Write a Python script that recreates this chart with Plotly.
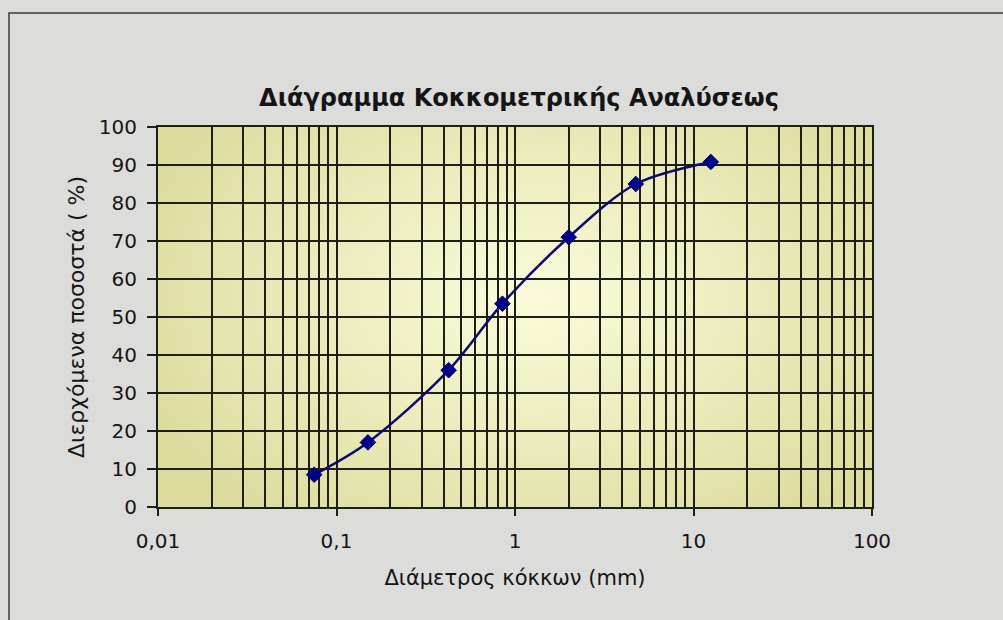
import plotly.graph_objects as go
import numpy as np
import zlib, struct, base64

# ---- data ----
diameter_mm = [0.075, 0.15, 0.425, 0.85, 2.0, 4.75, 12.5]
passing_pct = [8.5, 17.0, 36.0, 53.5, 71.0, 85.0, 90.8]

x_tickvals = [0.01, 0.1, 1, 10, 100]
x_ticktext = ["0,01", "0,1", "1", "10", "100"]
y_tickvals = [0, 10, 20, 30, 40, 50, 60, 70, 80, 90, 100]

title_text = "Διάγραμμα Κοκκομετρικής Αναλύσεως"
x_title = "Διάμετρος κόκκων (mm)"
y_title = "Διερχόμενα ποσοστά ( %)"

# minor grid values (2..9 per decade)
minor_vals = [m * 10.0 ** e for e in range(-2, 2) for m in range(2, 10)]


# ---- radial gradient background image for the plot area ----
def make_png(arr):
    h, w, _ = arr.shape
    raw = b"".join(b"\x00" + arr[i].tobytes() for i in range(h))
    def chunk(tag, data):
        c = struct.pack(">I", len(data)) + tag + data
        return c + struct.pack(">I", zlib.crc32(tag + data) & 0xffffffff)
    png = b"\x89PNG\r\n\x1a\n"
    png += chunk(b"IHDR", struct.pack(">IIBBBBB", w, h, 8, 2, 0, 0, 0))
    png += chunk(b"IDAT", zlib.compress(raw, 9))
    png += chunk(b"IEND", b"")
    return "data:image/png;base64," + base64.b64encode(png).decode()

W, H = 360, 190
yy, xx = np.mgrid[0:H, 0:W]
cx, cy = 0.52 * W, 0.45 * H
r = np.sqrt(((xx - cx) / (0.60 * W)) ** 2 + ((yy - cy) / (0.75 * H)) ** 2)
t = np.clip(r, 0, 1)[..., None]
c_in = np.array([252, 252, 220], dtype=float)
c_out = np.array([220, 220, 158], dtype=float)
img = (c_in * (1 - t) + c_out * t).astype(np.uint8)
grad_src = make_png(img)

GRID = "#1e1e14"
FONT = "DejaVu Sans, Verdana, sans-serif"
TXT = "#151515"

fig = go.Figure()
fig.add_trace(go.Scatter(
    x=diameter_mm, y=passing_pct,
    mode="lines+markers",
    line=dict(color="#0a0a6e", width=2.5, shape="spline", smoothing=0.9),
    marker=dict(symbol="diamond", size=12, color="#00008c",
                line=dict(color="#00005a", width=1)),
    showlegend=False,
))

fig.update_layout(
    width=1003, height=620,
    margin=dict(l=158, r=131, t=127, b=113),
    paper_bgcolor="#dcdcdb",
    plot_bgcolor="#dedea0",
    font=dict(family=FONT, color=TXT, size=20),
    title=dict(text="<b>" + title_text + "</b>", x=519 / 1003, xanchor="center",
               y=1 - 98 / 620, yanchor="middle",
               font=dict(size=24, color=TXT, family=FONT)),
    images=[dict(source=grad_src, xref="x domain", yref="y domain",
                 x=0, y=1, sizex=1, sizey=1, sizing="stretch",
                 xanchor="left", yanchor="top", layer="below")],
    shapes=[dict(type="rect", xref="paper", yref="paper",
                 x0=(9 - 158) / 714, x1=(1012 - 158) / 714,
                 y0=(507 - 630) / 380, y1=(507 - 13) / 380,
                 line=dict(color="#3a3a3a", width=1.5), fillcolor="rgba(0,0,0,0)",
                 layer="below")],
)

fig.update_xaxes(
    type="log", range=[-2, 2],
    tickvals=x_tickvals, ticktext=x_ticktext,
    ticks="outside", ticklen=7, tickwidth=1.5, tickcolor=GRID,
    ticklabelstandoff=8,
    showline=True, linecolor=GRID, linewidth=2,
    showgrid=True, gridcolor=GRID, gridwidth=2,
    minor=dict(tickvals=minor_vals, showgrid=True, gridcolor=GRID,
               gridwidth=2, ticks=""),
    mirror=True,
    zeroline=False,
    tickfont=dict(size=20, family=FONT, color=TXT),
    title=dict(text=x_title, standoff=18,
               font=dict(size=21, family=FONT, color=TXT)),
)
fig.update_yaxes(
    range=[0, 100], tickvals=y_tickvals,
    ticks="outside", ticklen=9, tickwidth=1.5, tickcolor=GRID,
    ticklabelstandoff=6,
    showline=True, linecolor=GRID, linewidth=2,
    showgrid=True, gridcolor=GRID, gridwidth=2,
    mirror=True,
    zeroline=False,
    tickfont=dict(size=20, family=FONT, color=TXT),
    title=dict(text=y_title, standoff=8,
               font=dict(size=22, family=FONT, color=TXT)),
)

fig.write_html("out.html", config={"displayModeBar": False},
               post_script="document.body.style.margin='0px';")
